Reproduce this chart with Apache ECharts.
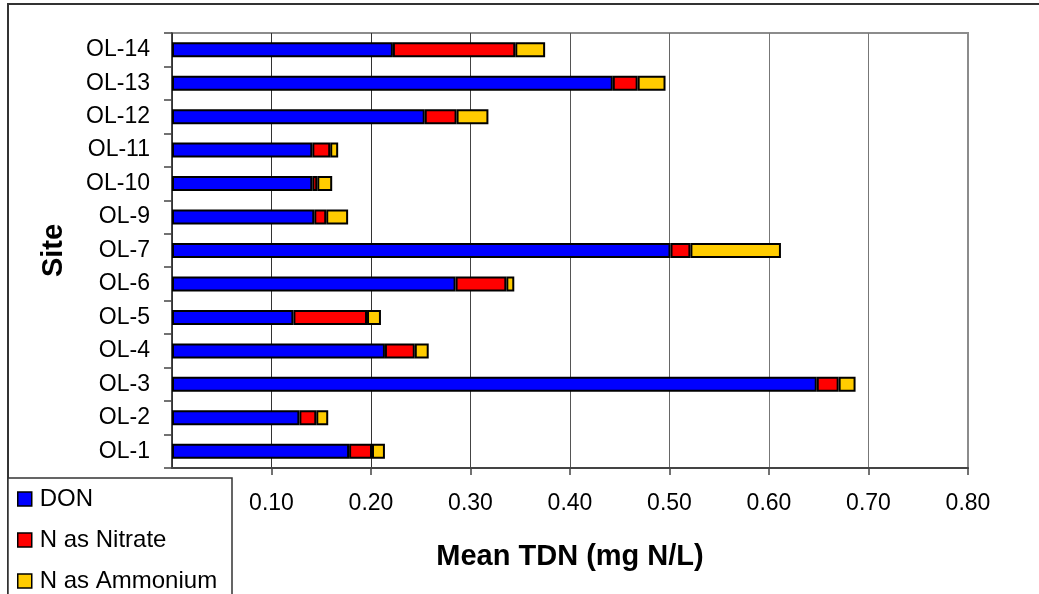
<!DOCTYPE html>
<html>
<head>
<meta charset="utf-8">
<script src="https://cdn.jsdelivr.net/npm/echarts@6/dist/echarts.min.js"></script>
<style>
html,body{margin:0;padding:0;background:#fff;}
#chart{width:1039px;height:594px;}
</style>
</head>
<body>
<div id="chart"></div>
<script>
const sites = ['OL-1','OL-2','OL-3','OL-4','OL-5','OL-6','OL-7','OL-9','OL-10','OL-11','OL-12','OL-13','OL-14'];
const don      = [0.178, 0.128, 0.648, 0.214, 0.122, 0.285, 0.501, 0.143, 0.141, 0.141, 0.254, 0.443, 0.222];
const nitrate  = [0.023, 0.017, 0.022, 0.030, 0.074, 0.051, 0.020, 0.012, 0.005, 0.018, 0.032, 0.025, 0.123];
const ammonium = [0.013, 0.012, 0.017, 0.014, 0.014, 0.008, 0.091, 0.022, 0.015, 0.008, 0.032, 0.028, 0.030];
const seriesNames = ['DON', 'N as Nitrate', 'N as Ammonium'];
const xTitle = 'Mean TDN (mg N/L)';
const yTitle = 'Site';

const FONT = '"Liberation Sans", Arial, sans-serif';
const colors = ['#0000FF', '#FF0000', '#FFCC00'];
const values = [don, nitrate, ammonium];

const chart = echarts.init(document.getElementById('chart'), null, {renderer: 'canvas'});
chart.setOption({
  animation: false,
  backgroundColor: '#ffffff',
  textStyle: {fontFamily: FONT},
  grid: {left: 172, right: 71, top: 33, bottom: 126, show: true, borderColor: '#8c8c8c', borderWidth: 2, backgroundColor: 'transparent'},
  graphic: [
    {type: 'rect', z: -10, shape: {x: 8, y: 4, width: 1200, height: 800}, style: {fill: 'none', stroke: '#333', lineWidth: 2}},
    {type: 'rect', z: 50, shape: {x: 8, y: 478, width: 224, height: 200}, style: {fill: '#fff', stroke: '#333', lineWidth: 1.5}}
  ],
  legend: {
    orient: 'vertical', left: 17, top: 487, height: 130, padding: 0, itemGap: 17, z: 60,
    itemWidth: 14, itemHeight: 14, icon: 'rect',
    itemStyle: {borderColor: '#000', borderWidth: 1.5},
    textStyle: {fontSize: 24, lineHeight: 22, color: '#000', fontFamily: FONT, padding: [0, 0, 0, 3]},
    data: seriesNames
  },
  xAxis: {
    type: 'value', min: 0, max: 0.8, interval: 0.1,
    name: xTitle, nameLocation: 'middle', nameGap: 74,
    nameTextStyle: {fontSize: 29, fontWeight: 'bold', color: '#000', fontFamily: FONT},
    axisLine: {show: true, lineStyle: {color: '#444', width: 2}},
    axisTick: {show: true, length: 7, lineStyle: {color: '#444', width: 1.5}},
    axisLabel: {showMinLabel: false, margin: 24, fontSize: 23, color: '#000', fontFamily: FONT, formatter: v => v.toFixed(2)},
    splitLine: {show: true, lineStyle: {color: ['#333','#333','#333','#444','#555','#666','#777','#777','#8c8c8c'], width: 1}}
  },
  yAxis: {
    type: 'category', data: sites,
    name: yTitle, nameLocation: 'middle', nameGap: 104, nameRotate: 90,
    nameTextStyle: {fontSize: 29, fontWeight: 'bold', color: '#000', fontFamily: FONT},
    axisLine: {show: true, lineStyle: {color: '#333', width: 1.5}},
    axisTick: {show: true, length: 8, alignWithLabel: false, lineStyle: {color: '#444', width: 1.5}},
    axisLabel: {margin: 22, fontSize: 23, color: '#000', fontFamily: FONT},
    splitLine: {show: false}
  },
  series: seriesNames.map((n, i) => ({
    name: n, type: 'bar', stack: 'tdn', barWidth: 15,
    itemStyle: {color: colors[i], borderColor: '#000', borderWidth: 2},
    data: values[i]
  }))
});
</script>
</body>
</html>
